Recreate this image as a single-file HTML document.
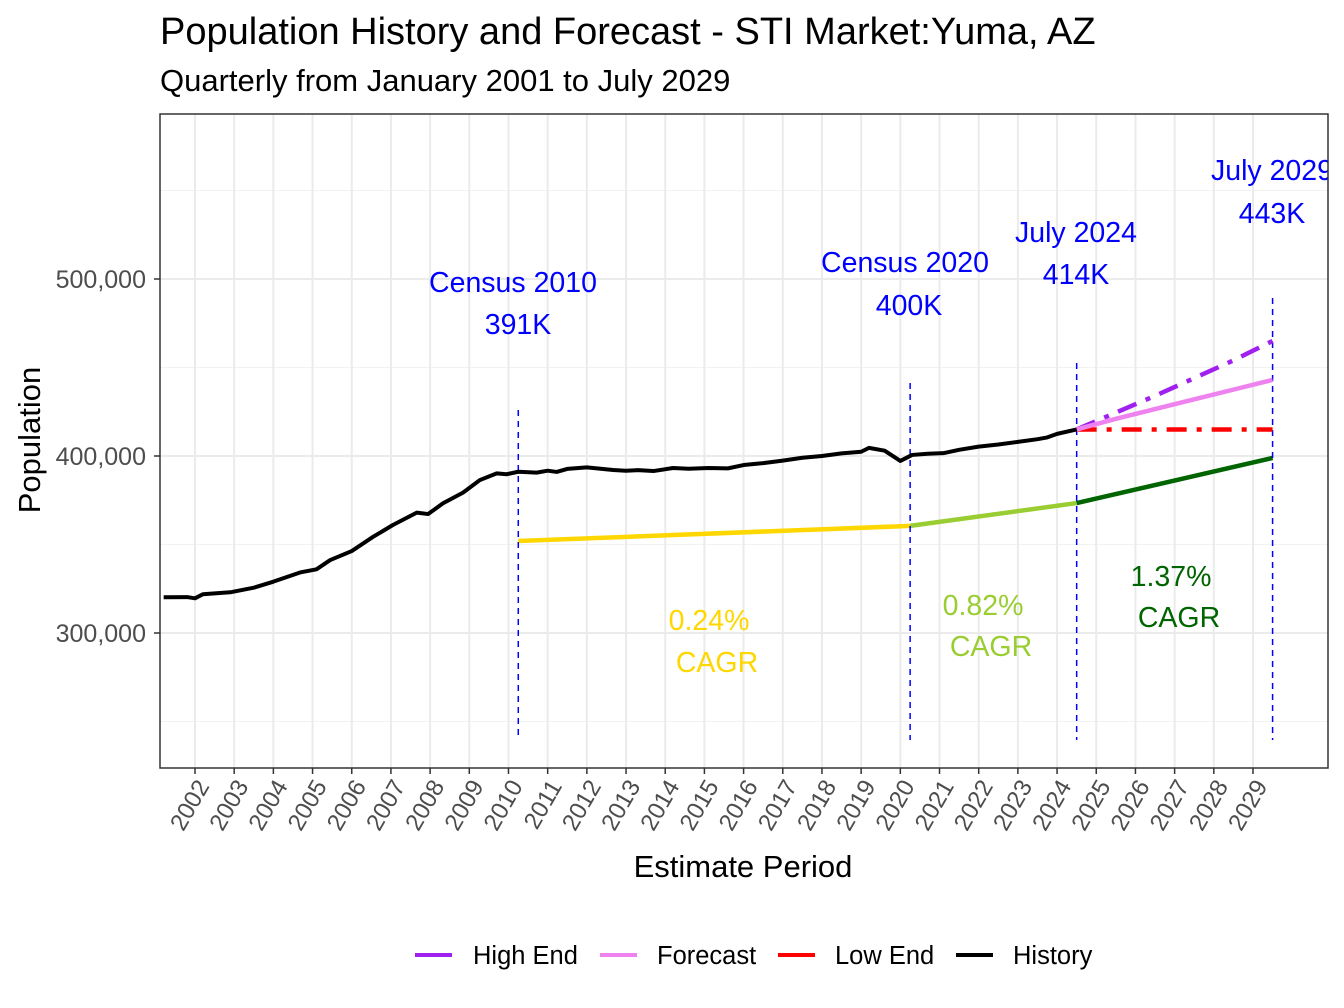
<!DOCTYPE html>
<html><head><meta charset="utf-8"><style>
body{margin:0;background:#fff;}
svg{display:block;font-family:"Liberation Sans",Arial,sans-serif;}
</style></head><body>
<svg id="chart" width="1344" height="1008" viewBox="0 0 1344 1008">
<rect width="1344" height="1008" fill="#fff"/>
<text x="160" y="44" font-size="38" fill="#000">Population History and Forecast - STI Market:Yuma, AZ</text>
<text x="160" y="91" font-size="31" fill="#000">Quarterly from January 2001 to July 2029</text>
<defs><clipPath id="pc"><rect x="160" y="114" width="1168" height="654"/></clipPath></defs>
<g id="grid"></g>
<g id="marks" clip-path="url(#pc)"></g>
<rect x="160" y="114" width="1168" height="654" fill="none" stroke="#333" stroke-width="1.5"/>
<g id="axes"></g>
<text x="743" y="877" font-size="31" text-anchor="middle" fill="#000">Estimate Period</text>
<text transform="translate(40,440) rotate(-90)" font-size="31" text-anchor="middle" fill="#000">Population</text>
<g font-size="25.5">
<g><line x1="415" y1="955" x2="452" y2="955" stroke="#A020F0" stroke-width="4"/><text x="473" y="964">High End</text></g>
<g><line x1="600" y1="955" x2="637" y2="955" stroke="#EE82EE" stroke-width="4"/><text x="657" y="964">Forecast</text></g>
<g><line x1="778" y1="955" x2="815" y2="955" stroke="#FF0000" stroke-width="4"/><text x="835" y="964">Low End</text></g>
<g><line x1="956" y1="955" x2="993" y2="955" stroke="#000" stroke-width="4"/><text x="1013" y="964">History</text></g>
</g>
</svg>
<script>
const histYears=[2001.2,2001.8,2002.0,2002.2,2002.9,2003.5,2004.0,2004.7,2005.1,2005.45,2006.0,2006.55,2007.05,2007.66,2007.95,2008.33,2008.84,2009.27,2009.7,2009.95,2010.25,2010.72,2011.0,2011.23,2011.5,2012.0,2012.67,2013.0,2013.3,2013.7,2014.2,2014.6,2015.1,2015.6,2016.0,2016.5,2017.0,2017.5,2018.0,2018.5,2019.0,2019.2,2019.6,2020.0,2020.3,2020.7,2021.1,2021.5,2022.0,2022.5,2023.0,2023.5,2023.75,2024.0,2024.5];
const histValues=[320.2,320.3,319.6,321.9,323,325.6,329,334.3,336,341.2,346.3,354.4,361,368,367.2,373.3,379.3,386.4,390.2,389.7,391.1,390.6,391.7,391,392.7,393.6,392.1,391.7,392,391.5,393.2,392.8,393.2,393,394.9,396,397.4,399,400,401.5,402.4,404.6,403,397.2,400.6,401.3,401.6,403.5,405.3,406.5,408,409.5,410.5,412.5,415];
const fcYears=[2024.5,2025.5,2026.5,2027.5,2028.5,2029.5];
const forecastValues=[415,421,426.5,432,437.5,443];
const highValues=[415,424.5,434,444,454,465];
const lowValues=[415,415,415,415,415,415];
const cagrYears=[2010.25,2020.25,2024.5,2029.5];
const cagrValues=[352,360.5,373.4,398.9];
const cagrColors=["#FFD700","#9ACD32","#006400"];
const cagrLabels=["0.24%","0.82%","1.37%"];
const markerYears=[2010.25,2020.25,2024.5,2029.5];
const markerTitles=["Census 2010","Census 2020","July 2024","July 2029"];
const markerValues=["391K","400K","414K","443K"];
const yTicks=[300,400,500];
const yTickLabels=["300,000","400,000","500,000"];
const yMinor=[250,350,450,550];
const xTicks=[2002,2003,2004,2005,2006,2007,2008,2009,2010,2011,2012,2013,2014,2015,2016,2017,2018,2019,2020,2021,2022,2023,2024,2025,2026,2027,2028,2029];

const X=yr=>195+(yr-2002)*39.185;
const Y=v=>456-(v-400)*1.77;
const NS="http://www.w3.org/2000/svg";
function mk(parent,tag,attrs){const e=document.createElementNS(NS,tag);for(const k in attrs)e.setAttribute(k,attrs[k]);parent.appendChild(e);return e;}
const grid=document.getElementById('grid'),marks=document.getElementById('marks'),axes=document.getElementById('axes');
mk(grid,'rect',{x:160,y:114,width:1168,height:654,fill:'#fff'});
yMinor.forEach(v=>{const l=mk(grid,'line',{x1:160,x2:1328,y1:Y(v),y2:Y(v),stroke:'#F2F2F2','stroke-width':1});

});
yTicks.forEach((v,i)=>{const l=mk(grid,'line',{x1:160,x2:1328,y1:Y(v),y2:Y(v),stroke:'#EBEBEB','stroke-width':2});


const t=mk(axes,'line',{x1:154,x2:160,y1:Y(v),y2:Y(v),stroke:'#333','stroke-width':1.5});


const tx=mk(axes,'text',{x:146,y:Y(v)+9,'text-anchor':'end','font-size':25,fill:'#4D4D4D'});tx.textContent=yTickLabels[i];

});
xTicks.forEach(yr=>{const x=X(yr);const l=mk(grid,'line',{x1:x,x2:x,y1:114,y2:768,stroke:'#EBEBEB','stroke-width':2});


const t=mk(axes,'line',{x1:x,x2:x,y1:768,y2:774,stroke:'#333','stroke-width':1.5});


const tx=mk(axes,'text',{transform:`translate(${x+15},786) rotate(-60)`,'text-anchor':'end','font-size':24,fill:'#4D4D4D'});tx.textContent=yr;

});
function poly(xs,vs,stroke,w,dash,name){const p=mk(marks,'polyline',{points:xs.map((x,i)=>X(x)+','+Y(vs[i])).join(' '),fill:'none',stroke:stroke,'stroke-width':w,'stroke-linejoin':'round'});if(dash)p.setAttribute('stroke-dasharray',dash);

return p;}
for(let i=0;i<3;i++){poly([cagrYears[i],cagrYears[i+1]],[cagrValues[i],cagrValues[i+1]],cagrColors[i],4.5,null,'cagr-line');}
markerYears.forEach((yr,i)=>{const top=[410,383,363,298][i];const l=mk(marks,'line',{x1:X(yr),x2:X(yr),y1:top,y2:740,stroke:'#0000FF','stroke-width':1.5,'stroke-dasharray':'6,5'});

});
poly(fcYears,lowValues,'#FF0000',4.5,'20,10,5,10','low-end-line');
poly(fcYears,highValues,'#A020F0',4.5,'20,10,5,10','high-end-line');
poly(fcYears,forecastValues,'#EE82EE',4.5,null,'forecast-line');
poly(histYears,histValues,'#000',4,null,'history-line');
const mlab=[[513,282,518,324],[905,262,909,305],[1076,232,1076,274],[1272,170,1272,213]];
markerYears.forEach((yr,i)=>{const m=mlab[i];
const a=mk(marks,'text',{x:m[0],y:m[1]+10,'text-anchor':'middle','font-size':28.5,fill:'#0000FF'});a.textContent=markerTitles[i];


const b=mk(marks,'text',{x:m[2],y:m[3]+10,'text-anchor':'middle','font-size':28.5,fill:'#0000FF'});b.textContent=markerValues[i];

});
const clab=[[709,620,717,662],[983,605,991,646],[1171,576,1179,617]];
cagrLabels.forEach((s,i)=>{const m=clab[i];
const a=mk(marks,'text',{x:m[0],y:m[1]+10,'text-anchor':'middle','font-size':28.5,fill:cagrColors[i]});a.textContent=s;


const b=mk(marks,'text',{x:m[2],y:m[3]+10,'text-anchor':'middle','font-size':28.5,fill:cagrColors[i]});b.textContent='CAGR';

});
</script>
</body></html>
